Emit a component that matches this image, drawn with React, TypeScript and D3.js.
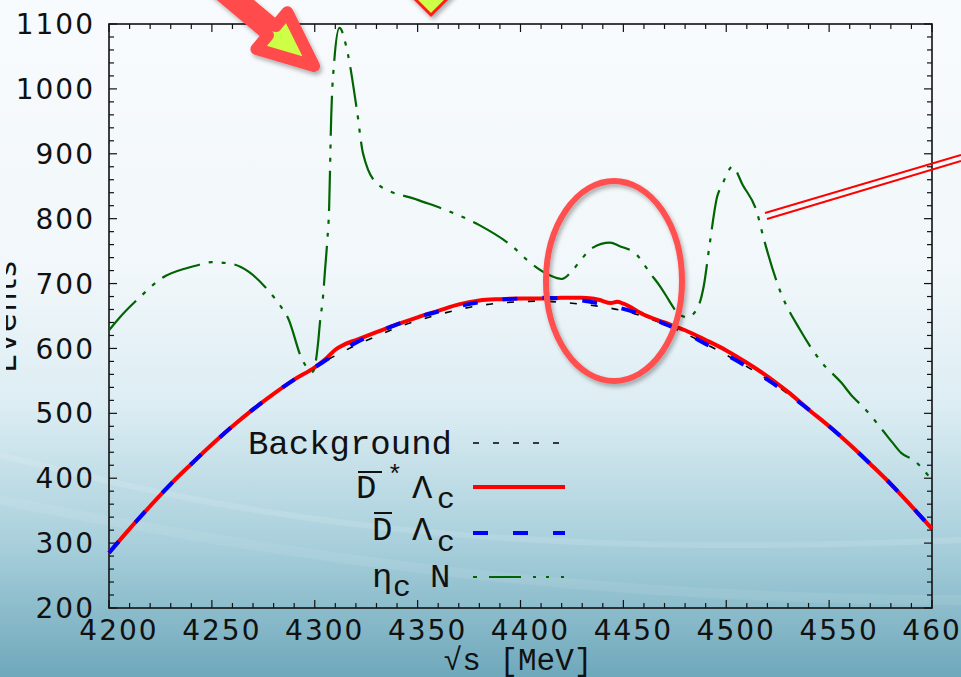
import * as d3 from "d3";

// sqrt(s) grid for the smooth curves [MeV]
const energies = d3.range(4200, 4601, 10);

// Background events (black dashed)
const background = [
  285, 322, 357, 391, 422, 452, 480, 506, 530, 552, 571, 589, 605, 619, 632, 643, 652,
  660, 666, 670, 672, 673, 671, 668, 664, 658, 649, 637, 623, 607, 590, 572, 552, 530,
  506, 480, 452, 422, 391, 357, 322,
];

// D*bar Lambda_c (red)
const redE = [
  4200, 4210, 4220, 4230, 4240, 4250, 4260, 4270, 4280, 4290, 4300, 4305, 4310, 4315, 4320,
  4330, 4340, 4350, 4360, 4370, 4380, 4390, 4400, 4410, 4420, 4430, 4438, 4444, 4447, 4450,
  4460, 4470, 4480, 4490, 4500, 4510, 4520, 4530, 4540, 4550, 4560, 4570, 4580, 4590, 4600,
];
const redV = [
  285, 322, 357, 391, 422, 452, 480, 506, 530, 552, 571, 583, 598, 607, 613, 625, 637, 648,
  658, 668, 674, 676, 677, 677, 678, 678, 675, 670, 672, 669, 652, 640, 628, 613, 597, 578,
  557, 533, 506, 480, 452, 422, 391, 357, 322,
];

// Dbar Lambda_c (blue dashed)
const blueV = [
  285, 322, 357, 391, 422, 452, 480, 506, 530, 552, 571, 591, 609, 624, 637, 648, 657, 665,
  671, 675, 677, 678, 677, 674, 668, 661, 651, 638, 624, 607, 590, 572, 552, 530, 506, 480,
  452, 422, 391, 357, 322,
];

// eta_c N (green dash-dot)
const greenE = [
  4200, 4205, 4215, 4226, 4238, 4244, 4250, 4260, 4268, 4278, 4283, 4287, 4294, 4299, 4301.6,
  4302.5, 4304, 4305, 4306, 4307, 4308, 4309.5, 4312, 4316, 4320.5, 4323.5, 4331, 4350, 4364,
  4380, 4395, 4406, 4414, 4420, 4425.5, 4430, 4435, 4443.5, 4448, 4456.6, 4463, 4468, 4472,
  4476, 4481, 4486, 4489, 4492, 4495.5, 4498, 4503, 4508, 4515, 4518, 4526, 4536, 4546, 4556,
  4561.6, 4566.5, 4576, 4580.5, 4585, 4591, 4600,
];
const greenV = [
  628, 647, 679, 709, 724, 729, 733, 730, 718, 687, 667, 647, 582, 564, 608, 639, 679, 721,
  762, 818, 957, 1044, 1094, 1055, 967, 900, 852, 829, 813, 790, 760, 729, 713, 707, 721, 739,
  755, 763, 758, 744, 716, 695, 675, 656, 648, 662, 695, 762, 833, 852, 880, 852, 809, 772,
  690, 628, 580, 547, 525, 510, 474, 456, 439, 428, 397,
];

const xTicks = d3.range(4200, 4601, 10);
const yTicks = d3.range(200, 1101, 20);

const W = 961;
const H = 677;
const L = 109;
const R = 932;
const T = 24;
const B = 608;

export default function App() {
  const x = d3.scaleLinear().domain([4200, 4600]).range([L, R]);
  const y = d3.scaleLinear().domain([200, 1100]).range([B, T]);
  const line = d3
    .line<[number, number]>()
    .x((d) => x(d[0]))
    .y((d) => y(d[1]))
    .curve(d3.curveMonotoneX);

  const bgPath = line(energies.map((e, i) => [e, background[i]]));
  const redPath = line(redE.map((e, i) => [e, redV[i]]));
  const bluePath = line(energies.map((e, i) => [e, blueV[i]]));
  const greenPath = line(greenE.map((e, i) => [e, greenV[i]]));

  const mono = "'Liberation Mono', 'DejaVu Sans Mono', monospace";
  const sans = "'DejaVu Sans', sans-serif";

  return (
    <div style={{ position: "absolute", left: 0, top: 0 }}>
      <svg width={W} height={H} style={{ display: "block" }}>
        <defs>
          <linearGradient id="bg" x1="0" y1="0" x2="0" y2="1">
            <stop offset="0" stopColor="#f8fbfd" />
            <stop offset="0.4" stopColor="#f1f7fa" />
            <stop offset="0.6" stopColor="#dcedf3" />
            <stop offset="0.8" stopColor="#a9d0dc" />
            <stop offset="1" stopColor="#6fa8bb" />
          </linearGradient>
          <filter id="sh" x="-20%" y="-20%" width="140%" height="140%">
            <feDropShadow dx="2" dy="3" stdDeviation="2" floodColor="#000" floodOpacity="0.3" />
          </filter>
          <clipPath id="ylab">
            <rect x={6} y={0} width={30} height={H} />
          </clipPath>
        </defs>
        <rect width={W} height={H} fill="url(#bg)" />
        <path d="M0,455 C250,520 500,560 961,540" fill="none" stroke="#fff" strokeOpacity="0.12" strokeWidth="6" />
        <path d="M0,500 C300,560 600,600 961,600" fill="none" stroke="#fff" strokeOpacity="0.08" strokeWidth="10" />

        {/* frame ticks */}
        <g stroke="#111" strokeWidth={1.2}>
          {xTicks.map((v) => {
            const len = v % 50 === 0 ? 8 : 5;
            return (
              <g key={"x" + v}>
                <line x1={x(v)} x2={x(v)} y1={B} y2={B - len} />
                <line x1={x(v)} x2={x(v)} y1={T} y2={T + len} />
              </g>
            );
          })}
          {yTicks.map((v) => {
            const len = v % 100 === 0 ? 8 : 5;
            return (
              <g key={"y" + v}>
                <line x1={L} x2={L + len} y1={y(v)} y2={y(v)} />
                <line x1={R} x2={R - len} y1={y(v)} y2={y(v)} />
              </g>
            );
          })}
        </g>
        <rect x={L} y={T} width={R - L} height={B - T} fill="none" stroke="#111" strokeWidth={1.6} />

        {/* tick labels */}
        <g fontFamily={sans} fontSize={28} letterSpacing={2} fill="#111">
          {yTicks
            .filter((v) => v % 100 === 0)
            .map((v) => (
              <text key={"yl" + v} x={95} y={y(v)} dy="0.36em" textAnchor="end">
                {v}
              </text>
            ))}
          {xTicks
            .filter((v) => v % 50 === 0)
            .map((v) => (
              <text key={"xl" + v} x={x(v) + 10} y={640} textAnchor="middle">
                {v}
              </text>
            ))}
        </g>
        <g clipPath="url(#ylab)">
          <text
            transform="translate(16,316) rotate(-90)"
            textAnchor="middle"
            fontFamily={sans}
            fontSize={30}
            letterSpacing={2}
            fill="#111"
          >
            Events
          </text>
        </g>
        <text x={518} y={670} textAnchor="middle" fontFamily={mono} fontSize={31} fill="#111">
          √s [MeV]
        </text>

        {/* curves */}
        <path d={bgPath!} fill="none" stroke="#000" strokeWidth={1.6} strokeDasharray="7,14" />
        <path d={redPath!} fill="none" stroke="#ff0000" strokeWidth={4} />
        <path d={bluePath!} fill="none" stroke="#0000ff" strokeWidth={4} strokeDasharray="15,25" />
        <path d={greenPath!} fill="none" stroke="#006400" strokeWidth={2.2} strokeDasharray="40,9,4,9,4,9" />

        {/* legend */}
        <g fontFamily={mono} fontSize={34} fill="#111">
          <text x={452} y={454} textAnchor="end">Background</text>
          <line x1={473} x2={560} y1={443} y2={443} stroke="#000" strokeWidth={1.6} strokeDasharray="6,14" />

          <text x={356} y={498}>D</text>
          <line x1={358} x2={382} y1={472} y2={472} stroke="#111" strokeWidth={2} />
          <text x={387} y={483} fontSize={26}>*</text>
          <text x={412} y={498}>Λ</text>
          <text x={437} y={508} fontSize={30}>c</text>
          <line x1={473} x2={565} y1={487} y2={487} stroke="#ff0000" strokeWidth={4} />

          <text x={372} y={540}>D</text>
          <line x1={374} x2={392} y1={513} y2={513} stroke="#111" strokeWidth={2} />
          <text x={412} y={540}>Λ</text>
          <text x={437} y={551} fontSize={30}>c</text>
          <line x1={473} x2={565} y1={533} y2={533} stroke="#0000ff" strokeWidth={4} strokeDasharray="15,25" />

          <text x={372} y={587}>η</text>
          <text x={393} y={596} fontSize={30}>c</text>
          <text x={430} y={587}>N</text>
          <line x1={473} x2={565} y1={577} y2={577} stroke="#006400" strokeWidth={2.2} strokeDasharray="4,12,32,12,3,10,3,12,3" />
        </g>

        {/* annotations */}
        <g filter="url(#sh)">
          <polygon
            transform="translate(314,66) rotate(40)"
            points="-220,-6 -55,-6 -55,-24 0,0 -55,24 -55,6 -220,6"
            fill="#ccff44"
            stroke="#ff4b4b"
            strokeWidth={12}
            strokeLinejoin="round"
          />
          <polygon points="398,-18 431,15 464,-18" fill="#ccff44" stroke="#ff1a1a" strokeWidth={3} />
          <ellipse cx={614} cy={281} rx={68} ry={100} fill="none" stroke="#ff4f4f" strokeWidth={6} />
        </g>
        <line x1={765} y1={213} x2={961} y2={155} stroke="#ff0000" strokeWidth={2} />
        <line x1={767} y1={219} x2={961} y2={161} stroke="#ff0000" strokeWidth={2} />
      </svg>
    </div>
  );
}
